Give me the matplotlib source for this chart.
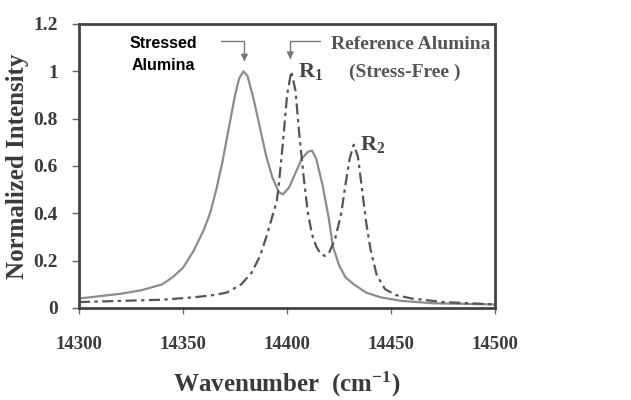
import matplotlib.pyplot as plt

plt.rcParams['mathtext.fontset'] = 'custom'
plt.rcParams['mathtext.rm'] = 'Liberation Serif:bold'
plt.rcParams['mathtext.it'] = 'Liberation Serif:bold'
plt.rcParams['mathtext.bf'] = 'Liberation Serif:bold'

# stressed alumina (solid)
x_stressed = [14300, 14310, 14320, 14330, 14340, 14345, 14350, 14355, 14360, 14363,
              14366, 14369, 14372, 14375, 14377, 14379, 14381, 14384, 14387, 14390,
              14393, 14396, 14398, 14401, 14404, 14407, 14410, 14412, 14414, 14417,
              14420, 14422, 14425, 14428, 14432, 14438, 14445, 14455, 14470, 14500]
y_stressed = [0.04, 0.05, 0.06, 0.075, 0.10, 0.13, 0.17, 0.24, 0.33, 0.40,
              0.50, 0.62, 0.76, 0.90, 0.97, 1.0, 0.98, 0.88, 0.76, 0.64,
              0.55, 0.49, 0.48, 0.51, 0.57, 0.63, 0.66, 0.665, 0.63, 0.52,
              0.38, 0.26, 0.18, 0.13, 0.10, 0.065, 0.045, 0.03, 0.02, 0.015]

# reference alumina, stress-free (dash-dot)
x_ref = [14300, 14320, 14340, 14355, 14365, 14371, 14378, 14383, 14387, 14390,
         14392, 14394, 14395, 14396, 14398, 14400, 14402, 14404, 14406, 14408,
         14410, 14412, 14414, 14416, 14418, 14420, 14423, 14426, 14428, 14430,
         14432, 14434, 14436, 14438, 14440, 14443, 14447, 14452, 14460, 14475, 14500]
y_ref = [0.025, 0.03, 0.035, 0.045, 0.055, 0.065, 0.10, 0.15, 0.22, 0.30,
         0.36, 0.42, 0.45, 0.52, 0.70, 0.90, 1.0, 0.92, 0.72, 0.55,
         0.40, 0.31, 0.26, 0.23, 0.22, 0.23, 0.29, 0.40, 0.52, 0.63,
         0.69, 0.64, 0.50, 0.36, 0.25, 0.14, 0.08, 0.055, 0.04, 0.025, 0.015]

x_ticks = [14300, 14350, 14400, 14450, 14500]
y_ticks = [0, 0.2, 0.4, 0.6, 0.8, 1.0, 1.2]
y_ticklabels = ['0', '0.2', '0.4', '0.6', '0.8', '1', '1.2']

serif = 'Liberation Serif'
dark = '#3a3a3a'

fig = plt.figure(figsize=(6.31, 4.0), dpi=100)
ax = fig.add_axes([0.125, 0.23, 0.66, 0.71])

ax.plot(x_stressed, y_stressed, color='#8c8c8c', lw=1.6)
ax.plot(x_ref, y_ref, color='#555555', lw=1.6, linestyle=(0, (5, 2, 1.5, 2)))

ax.set_xlim(14300, 14500)
ax.set_ylim(0, 1.2)
ax.set_xticks(x_ticks)
ax.set_xticklabels([str(t) for t in x_ticks], fontfamily=serif, fontweight='bold',
                   fontsize=13.5, color=dark)
ax.set_yticks(y_ticks)
ax.set_yticklabels(y_ticklabels, fontfamily=serif, fontweight='bold',
                   fontsize=14, color=dark)
ax.tick_params(axis='x', direction='out', length=4, width=1, color='#666666', pad=16)
ax.tick_params(axis='y', direction='out', length=5, width=1, color='#666666', pad=10)
for s in ax.spines.values():
    s.set_color('#444444')
    s.set_linewidth(2)

ax.set_ylabel('Normalized Intensity', fontfamily=serif, fontweight='bold',
              fontsize=18, color=dark, labelpad=3)
ax.set_xlabel('Wavenumber  (cm$^{-1}$)', fontfamily=serif, fontweight='bold',
              fontsize=18, color=dark, labelpad=12)

arrow = dict(arrowstyle='-|>', color='#777777', lw=1,
             connectionstyle='angle,angleA=0,angleB=90,rad=0', mutation_scale=10)
ax.annotate('', xy=(14379.5, 1.03), xytext=(14367, 1.127), arrowprops=arrow)
ax.annotate('', xy=(14401.5, 1.04), xytext=(14417, 1.127), arrowprops=arrow)

ax.text(14340.5, 1.07, 'Stressed\nAlumina', ha='center', va='center',
        fontfamily='Liberation Sans', fontweight='bold', fontsize=11.5,
        color='black', linespacing=1.55)
ax.text(14421, 1.115, 'Reference Alumina', ha='left', va='center',
        fontfamily=serif, fontweight='bold', fontsize=14, color='#555555')
ax.text(14429.5, 0.995, '(Stress-Free )', ha='left', va='center',
        fontfamily=serif, fontweight='bold', fontsize=14, color='#555555')
ax.text(14405, 1.0, 'R$_1$', ha='left', va='center',
        fontfamily=serif, fontweight='bold', fontsize=16, color='#444444')
ax.text(14435, 0.69, 'R$_2$', ha='left', va='center',
        fontfamily=serif, fontweight='bold', fontsize=16, color='#444444')

fig.savefig('out.png', dpi=100)
